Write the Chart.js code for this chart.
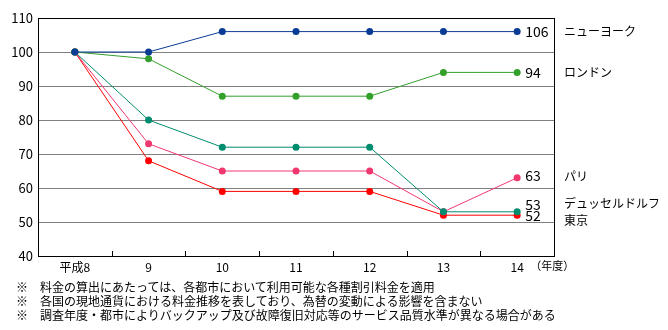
<!DOCTYPE html>
<html>
<head>
<meta charset="utf-8">
<script src="https://cdn.jsdelivr.net/npm/chart.js@4"></script>
<style>
  body { margin: 0; background: #fff; }
  #wrap { position: relative; width: 668px; height: 330px; }
  #notes { position: absolute; left: 16px; top: 280px; font: 12px "Noto Sans CJK JP", sans-serif; line-height: 14px; color: #000; white-space: nowrap; }
  #notes div span { display: inline-block; width: 24px; }
</style>
</head>
<body>
<div id="wrap">
  <canvas id="chart" width="668" height="330"></canvas>
  <div id="notes">
    <div><span>※</span>料金の算出にあたっては、各都市において利用可能な各種割引料金を適用</div>
    <div><span>※</span>各国の現地通貨における料金推移を表しており、為替の変動による影響を含まない</div>
    <div><span>※</span>調査年度・都市によりバックアップ及び故障復旧対応等のサービス品質水準が異なる場合がある</div>
  </div>
</div>
<script>
const years = ['平成8', '9', '10', '11', '12', '13', '14'];
const cities = ['ニューヨーク', 'ロンドン', 'デュッセルドルフ', 'パリ', '東京'];
const newYork = [100, 100, 106, 106, 106, 106, 106];
const london = [100, 98, 87, 87, 87, 94, 94];
const dusseldorf = [100, 80, 72, 72, 72, 53, 53];
const paris = [100, 73, 65, 65, 65, 53, 63];
const tokyo = [100, 68, 59, 59, 59, 52, 52];

const colors = ['#0a3c96', '#33a02c', '#008c6e', '#f0386e', '#ff0000'];
// vertical nudges for the end labels so they don't collide
const valueNudge = [0, 0, -7, -2, 0];
const cityNudge = [0, 0, -8, -1, 5];

const font = '"Noto Sans CJK JP", sans-serif';

const frame = {
  id: 'frame',
  afterDraw(chart) {
    const ctx = chart.ctx;
    const a = chart.chartArea;
    const x = chart.scales.x;
    ctx.save();
    ctx.strokeStyle = '#000';
    ctx.lineWidth = 1;
    ctx.strokeRect(a.left + 0.5, a.top + 0.5, a.right - a.left, a.bottom - a.top);
    // small ticks between categories, inside the plot
    ctx.beginPath();
    for (let i = 1; i < years.length; i++) {
      const px = Math.round((x.getPixelForValue(i - 1) + x.getPixelForValue(i)) / 2) + 0.5;
      ctx.moveTo(px, a.bottom);
      ctx.lineTo(px, a.bottom - 5);
    }
    ctx.stroke();

    ctx.fillStyle = '#000';
    ctx.textBaseline = 'middle';
    chart.data.datasets.forEach((ds, i) => {
      const last = ds.data.length - 1;
      const px = x.getPixelForValue(last);
      const py = chart.scales.y.getPixelForValue(ds.data[last]);
      ctx.font = '14px ' + font;
      ctx.fillText(String(ds.data[last]), px + 8, py + valueNudge[i]);
      ctx.font = '12px ' + font;
      ctx.fillText(cities[i], a.right + 10, py + cityNudge[i]);
    });
    ctx.font = '11px ' + font;
    ctx.fillText('（年度）', x.getPixelForValue(years.length - 1) + 13, a.bottom + 10);
    ctx.restore();
  }
};

const series = [newYork, london, dusseldorf, paris, tokyo];

new Chart(document.getElementById('chart'), {
  type: 'line',
  data: {
    labels: years,
    datasets: series.map((d, i) => ({
      label: cities[i],
      data: d,
      borderColor: colors[i],
      backgroundColor: colors[i],
      borderWidth: 1,
      pointRadius: 3.5,
      pointHoverRadius: 3.5,
      pointBorderWidth: 0,
      tension: 0
    }))
  },
  options: {
    responsive: false,
    animation: false,
    layout: { padding: { top: 18, right: 114, left: 0, bottom: 0 } },
    plugins: { legend: { display: false }, tooltip: { enabled: false } },
    scales: {
      x: {
        offset: true,
        grid: { display: false },
        border: { display: false },
        ticks: { color: '#000', font: { family: font, size: 12 }, padding: -4, maxRotation: 0 },
        afterFit: s => { s.height = 74; }
      },
      y: {
        min: 40,
        max: 110,
        grid: { color: '#808080', drawTicks: false },
        border: { display: false },
        ticks: { stepSize: 10, color: '#000', font: { family: font, size: 13 }, padding: 5 },
        afterFit: s => { s.width = 38; }
      }
    }
  },
  plugins: [frame]
});
</script>
</body>
</html>
